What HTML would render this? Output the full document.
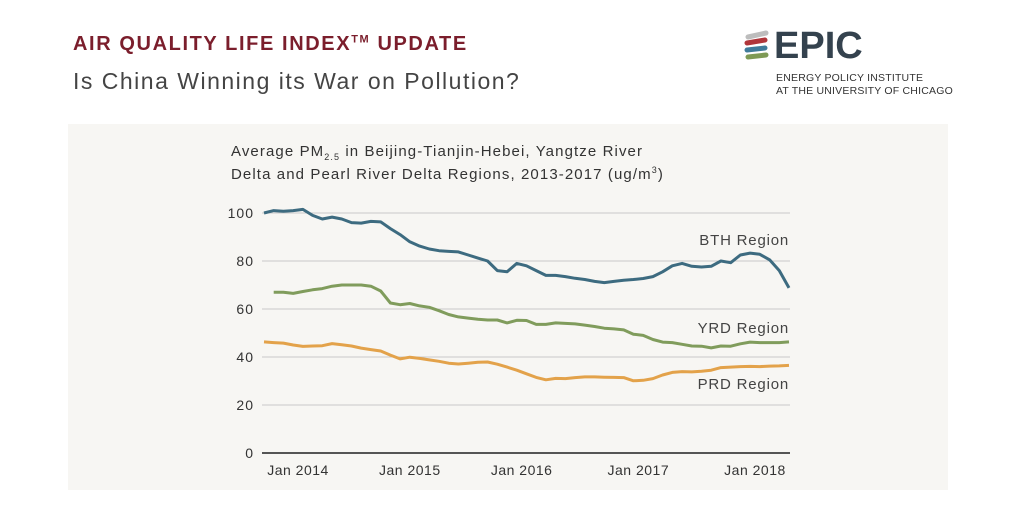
<!DOCTYPE html>
<html><head><meta charset="utf-8"><style>
body{margin:0;width:1024px;height:512px;background:#fff;font-family:"Liberation Sans",sans-serif;overflow:hidden;position:relative}
.abs{position:absolute;white-space:nowrap}
sub,sup{line-height:0}
</style></head><body>
<div class="abs" style="left:73px;top:33px;font-size:20px;font-weight:bold;color:#7b1e2c;letter-spacing:1.6px">AIR QUALITY LIFE INDEX<sup style="font-size:11px">TM</sup> UPDATE</div>
<div class="abs" style="left:73px;top:68px;font-size:23px;color:#444;letter-spacing:1.5px">Is China Winning its War on Pollution?</div>
<div>
<svg class="abs" style="left:740px;top:28px" width="40" height="36">
<line x1="8" y1="9" x2="26" y2="5" stroke="#bdbdbd" stroke-width="5" stroke-linecap="round"/>
<line x1="7" y1="15" x2="25" y2="12" stroke="#b0363a" stroke-width="5" stroke-linecap="round"/>
<line x1="7" y1="22" x2="25" y2="20" stroke="#3f7b9a" stroke-width="5" stroke-linecap="round"/>
<line x1="8" y1="29" x2="26" y2="27" stroke="#7e9a55" stroke-width="5" stroke-linecap="round"/>
</svg>
<div class="abs" style="left:774px;top:25px;font-size:38px;font-weight:bold;color:#34424e">EPIC</div>
<div class="abs" style="left:776px;top:72px;font-size:10.5px;color:#333;line-height:13px;letter-spacing:0.2px">ENERGY POLICY INSTITUTE<br>AT THE UNIVERSITY OF CHICAGO</div>
</div>
<div class="abs" style="left:68px;top:124px;width:880px;height:366px;background:#f7f6f3"></div>
<div class="abs" style="left:231px;top:140px;font-size:15px;color:#333;line-height:23px;letter-spacing:1.1px">Average PM<sub style="font-size:9px">2.5</sub> in Beijing-Tianjin-Hebei, Yangtze River<br>Delta and Pearl River Delta Regions, 2013-2017 (ug/m<sup style="font-size:9px">3</sup>)</div>
<svg class="abs" style="left:0;top:0" width="1024" height="512" id="chart"></svg>
<script>
const yTicks=[0,20,40,60,80,100];
const xLabels=["Jan 2014","Jan 2015","Jan 2016","Jan 2017","Jan 2018"];
const xLabelIdx=[3.5,15,26.5,38.5,50.5];
const bth=[100,101,100.7,101,101.5,99,97.5,98.3,97.5,96,95.8,96.5,96.3,93.5,91,88,86.2,85,84.3,84,83.8,82.5,81.2,80,76,75.5,79,78,76,74,74,73.5,72.8,72.3,71.5,71,71.5,72,72.3,72.7,73.5,75.5,78,79,77.8,77.5,77.8,80,79.3,82.5,83.3,82.8,80.5,76,68.8];
const yrd=[null,67,67,66.5,67.3,68,68.5,69.5,70,70,70,69.5,67.5,62.5,61.8,62.3,61.3,60.7,59.3,57.7,56.7,56.2,55.7,55.4,55.4,54.2,55.3,55.2,53.6,53.6,54.2,54,53.8,53.3,52.7,52,51.7,51.3,49.5,49,47.3,46.2,46,45.3,44.6,44.5,43.8,44.6,44.5,45.5,46.2,46,46,46,46.3];
const prd=[46.3,46,45.8,45,44.4,44.6,44.7,45.6,45.1,44.6,43.7,43.1,42.5,40.8,39.2,39.9,39.4,38.8,38.2,37.4,37.1,37.4,37.8,37.9,37,35.8,34.5,33,31.5,30.5,31.1,31,31.4,31.7,31.7,31.6,31.5,31.4,30.1,30.3,31,32.5,33.6,33.9,33.8,34.1,34.5,35.6,35.8,36,36.1,36,36.2,36.3,36.5];
const seriesNames=["BTH Region","YRD Region","PRD Region"];
const svg=document.getElementById('chart');
const NS='http://www.w3.org/2000/svg';
const X0=264,X1=789,Y0=453,Y100=213,N=bth.length;
const x=i=>X0+i*(X1-X0)/(N-1);
const y=v=>Y0-(v/100)*(Y0-Y100);
function mk(tag,attrs){const e=document.createElementNS(NS,tag);for(const k in attrs)e.setAttribute(k,attrs[k]);svg.appendChild(e);return e;}
yTicks.forEach(t=>{
  const l=mk('line',{x1:262,x2:790,y1:y(t),y2:y(t),stroke:t===0?'#555':'#c8c8c8','stroke-width':t===0?2:1});
  
  
  const tx=mk('text',{x:254,y:y(t)+5,'text-anchor':'end','font-size':14,fill:'#333','font-family':'Liberation Sans, sans-serif','letter-spacing':1});
  tx.textContent=t;
  
  
});
xLabels.forEach((lab,k)=>{
  const tx=mk('text',{x:x(xLabelIdx[k]),y:475,'text-anchor':'middle','font-size':14,fill:'#333','font-family':'Liberation Sans, sans-serif','letter-spacing':0.5});
  tx.textContent=lab;
  
  
});
const series=[[bth,'#3d6b80',240],[yrd,'#809c5c',328],[prd,'#e3a24a',384]];
series.forEach((s,k)=>{
  let d='';
  s[0].forEach((v,i)=>{if(v==null)return;d+=(d?'L':'M')+x(i).toFixed(1)+','+y(v).toFixed(1);});
  const p=mk('path',{d:d,fill:'none',stroke:s[1],'stroke-width':3,'stroke-linejoin':'round'});
  
  
  const tx=mk('text',{x:789,y:s[2]+5,'text-anchor':'end','font-size':15,fill:'#444','font-family':'Liberation Sans, sans-serif','letter-spacing':0.8});
  tx.textContent=seriesNames[k];
  
  
});
</script>
</body></html>
